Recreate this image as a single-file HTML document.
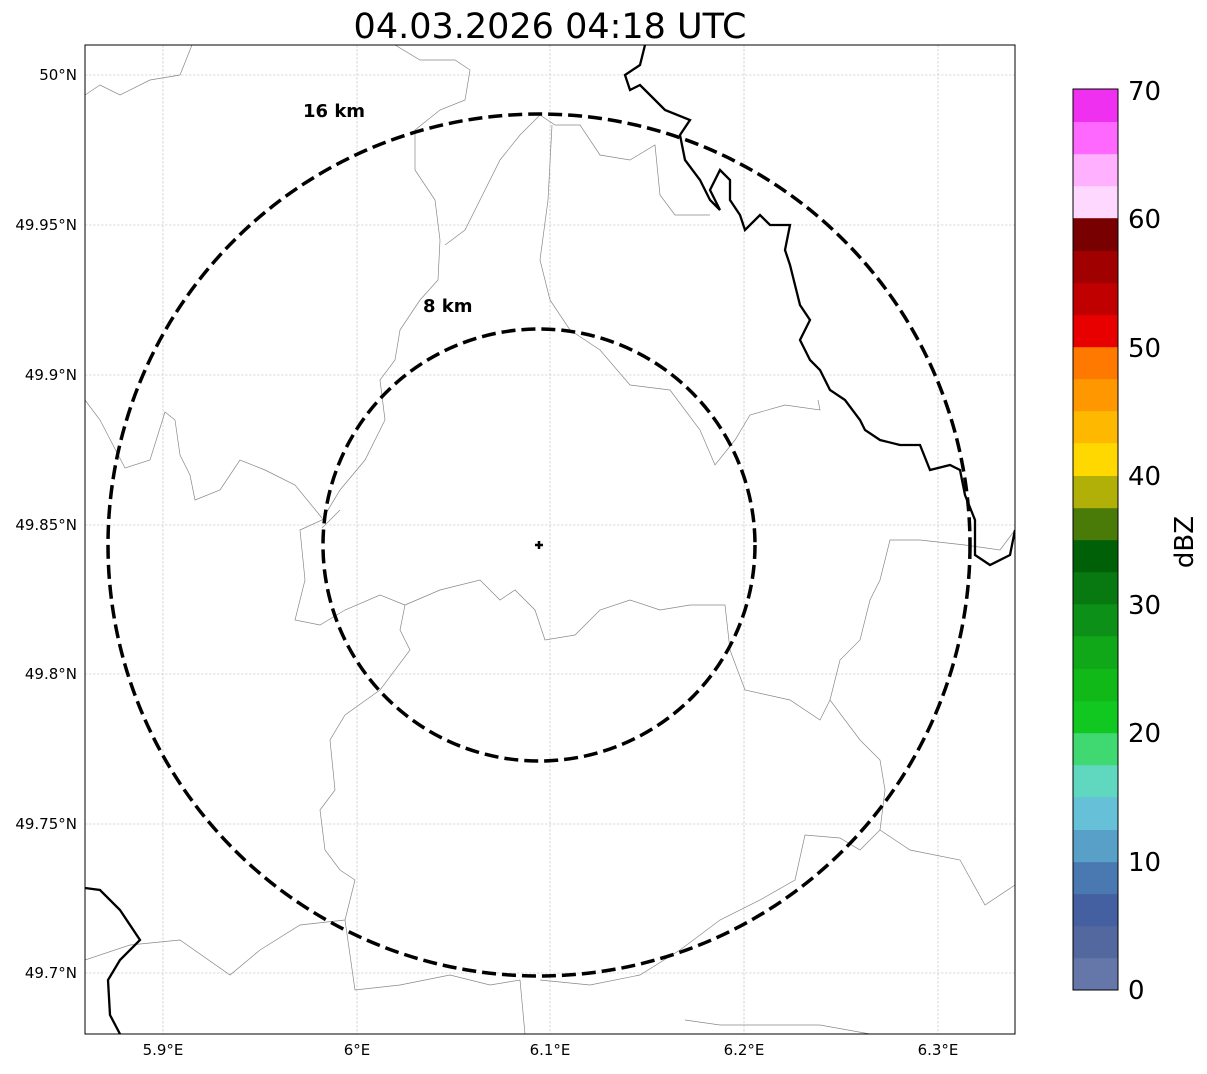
<!DOCTYPE html>
<html><head><style>
body{margin:0;background:#fff;}
svg text{font-family:"DejaVu Sans","Liberation Sans",sans-serif;}
</style></head><body>
<svg width="1207" height="1069" viewBox="0 0 1207 1069" xmlns="http://www.w3.org/2000/svg">
<rect width="1207" height="1069" fill="#fff"/>
<text x="550" y="38" font-size="35" text-anchor="middle">04.03.2026 04:18 UTC</text>
<defs><clipPath id="c"><rect x="85" y="45" width="930" height="989"/></clipPath></defs>
<g stroke="#bbb" stroke-width="0.6" stroke-dasharray="2.5,1.5">
<line x1="163" y1="45" x2="163" y2="1034"/><line x1="357" y1="45" x2="357" y2="1034"/>
<line x1="550" y1="45" x2="550" y2="1034"/><line x1="744" y1="45" x2="744" y2="1034"/>
<line x1="938" y1="45" x2="938" y2="1034"/>
<line x1="85" y1="75" x2="1015" y2="75"/><line x1="85" y1="225" x2="1015" y2="225"/>
<line x1="85" y1="375" x2="1015" y2="375"/><line x1="85" y1="525" x2="1015" y2="525"/>
<line x1="85" y1="674" x2="1015" y2="674"/><line x1="85" y1="824" x2="1015" y2="824"/>
<line x1="85" y1="973" x2="1015" y2="973"/>
</g>
<g clip-path="url(#c)" fill="none">
<g stroke="#888" stroke-width="0.7">
<path d="M85,95 L100,85 L120,95 L150,80 L180,75 L192,45"/>
<path d="M395,45 L420,60 L455,60 L470,70 L465,100 L440,110 L415,130 L415,170 L435,200 L440,240 L438,280 L420,300 L400,330 L395,360 L380,380 L385,420 L365,460 L340,490 L322,520 L300,530 L305,580 L295,620 L320,625 L345,610 L380,595 L405,605 L400,630 L410,650 L380,690 L345,715 L330,740 L335,790 L320,810 L325,850 L340,870 L355,880 L345,920 L355,990 L400,985 L450,975 L490,985 L520,980 L525,1034"/>
<path d="M85,400 L100,420 L125,468 L150,460 L165,412 L175,420 L180,455 L190,475 L195,500 L220,490 L240,460 L265,470 L295,485 L322,518"/>
<path d="M322,528 L340,510 L330,520"/>
<path d="M405,605 L440,590 L480,580 L500,600 L515,590 L535,610 L545,640 L575,635 L600,610 L630,600 L660,610 L690,605 L725,605 L730,650 L745,690 L790,700 L820,720 L830,700 L860,740 L880,760 L885,790 L880,830 L860,850 L840,838 L805,835 L795,880 L760,900 L720,920 L680,950 L640,975 L590,985 L540,980"/>
<path d="M540,115 L555,125 L580,125 L600,155 L630,160 L655,145 L660,195 L675,215 L710,215"/>
<path d="M540,115 L520,135 L500,160 L480,200 L465,230 L445,245"/>
<path d="M552,125 L548,200 L540,260 L550,300 L570,330 L600,350 L630,385 L670,390 L700,430 L715,465 L735,440 L750,415 L785,405 L820,410 L818,400"/>
<path d="M1015,530 L1000,550 L965,545 L920,540 L890,540 L880,580 L870,600 L860,640 L840,660 L830,700"/>
<path d="M880,830 L910,850 L960,860 L985,905 L1015,885"/>
<path d="M685,1020 L720,1025 L770,1025 L820,1025 L870,1034"/>
<path d="M85,960 L130,945 L180,940 L230,975 L260,950 L300,925 L345,920"/>
</g>
<path stroke="#000" stroke-width="2.3" d="M645,45 L640,65 L625,75 L630,90 L640,85 L650,95 L665,110 L690,120 L680,135 L685,160 L700,180 L710,200 L720,210 L710,190 L720,170 L730,180 L730,200 L740,215 L745,230 L760,215 L770,225 L790,225 L785,250 L790,265 L795,285 L800,305 L810,320 L800,340 L810,360 L820,370 L830,390 L845,400 L860,420 L865,430 L880,440 L900,445 L920,445 L930,470 L950,465 L960,470 L965,495 L975,520 L975,555 L990,565 L1010,555 L1015,530"/>
<path stroke="#000" stroke-width="2.3" d="M85,888 L100,890 L120,910 L140,940 L120,960 L108,980 L110,1015 L120,1034"/>
</g>
<g fill="none" stroke="#000" stroke-width="3.5" stroke-dasharray="14,6">
<circle cx="539" cy="545" r="431"/>
<circle cx="539" cy="545" r="216"/>
</g>
<path d="M535,545 H543 M539,541 V549" stroke="#000" stroke-width="2.5"/>
<text x="303" y="117" font-size="18" font-weight="bold">16 km</text>
<text x="423" y="312" font-size="18" font-weight="bold">8 km</text>
<rect x="85" y="45" width="930" height="989" fill="none" stroke="#000" stroke-width="1"/>
<g font-size="15" text-anchor="middle">
<text x="163" y="1055">5.9°E</text><text x="357" y="1055">6°E</text><text x="550" y="1055">6.1°E</text>
<text x="744" y="1055">6.2°E</text><text x="938" y="1055">6.3°E</text>
</g>
<g font-size="15" text-anchor="end">
<text x="77" y="80">50°N</text><text x="77" y="230">49.95°N</text><text x="77" y="380">49.9°N</text>
<text x="77" y="530">49.85°N</text><text x="77" y="679">49.8°N</text><text x="77" y="829">49.75°N</text>
<text x="77" y="978">49.7°N</text>
</g>
<g>
<rect x="1073" y="958" width="45" height="32.2" fill="#6477a8"/>
<rect x="1073" y="926" width="45" height="32.2" fill="#5468a0"/>
<rect x="1073" y="894" width="45" height="32.2" fill="#4460a0"/>
<rect x="1073" y="862" width="45" height="32.2" fill="#4a78b0"/>
<rect x="1073" y="830" width="45" height="32.2" fill="#58a0c8"/>
<rect x="1073" y="797" width="45" height="33" fill="#66c0d8"/>
<rect x="1073" y="765" width="45" height="32.2" fill="#60d8c0"/>
<rect x="1073" y="733" width="45" height="32.2" fill="#40d870"/>
<rect x="1073" y="701" width="45" height="32.2" fill="#10c820"/>
<rect x="1073" y="669" width="45" height="32.2" fill="#10b818"/>
<rect x="1073" y="636" width="45" height="33" fill="#10a818"/>
<rect x="1073" y="604" width="45" height="32.2" fill="#0c9018"/>
<rect x="1073" y="572" width="45" height="32.2" fill="#087810"/>
<rect x="1073" y="540" width="45" height="32.2" fill="#006008"/>
<rect x="1073" y="508" width="45" height="32.2" fill="#4a7a08"/>
<rect x="1073" y="476" width="45" height="32.2" fill="#b0b008"/>
<rect x="1073" y="443" width="45" height="33" fill="#ffd800"/>
<rect x="1073" y="411" width="45" height="32.2" fill="#ffb800"/>
<rect x="1073" y="379" width="45" height="32.2" fill="#ff9800"/>
<rect x="1073" y="347" width="45" height="32.2" fill="#ff7800"/>
<rect x="1073" y="315" width="45" height="32.2" fill="#e80000"/>
<rect x="1073" y="283" width="45" height="32.2" fill="#c00000"/>
<rect x="1073" y="251" width="45" height="32.2" fill="#a00000"/>
<rect x="1073" y="218" width="45" height="33" fill="#780000"/>
<rect x="1073" y="186" width="45" height="32.2" fill="#ffd8ff"/>
<rect x="1073" y="154" width="45" height="32.2" fill="#ffb0ff"/>
<rect x="1073" y="122" width="45" height="32.2" fill="#ff68ff"/>
<rect x="1073" y="89" width="45" height="33" fill="#f030f0"/>
<rect x="1073" y="89" width="45" height="901" fill="none" stroke="#000" stroke-width="1"/>
</g>
<g font-size="26">
<text x="1128" y="999">0</text><text x="1128" y="871">10</text><text x="1128" y="742">20</text>
<text x="1128" y="614">30</text><text x="1128" y="485">40</text><text x="1128" y="357">50</text>
<text x="1128" y="228">60</text><text x="1128" y="100">70</text>
</g>
<text transform="translate(1193,542) rotate(-90)" font-size="26" text-anchor="middle">dBZ</text>
</svg>
</body></html>
